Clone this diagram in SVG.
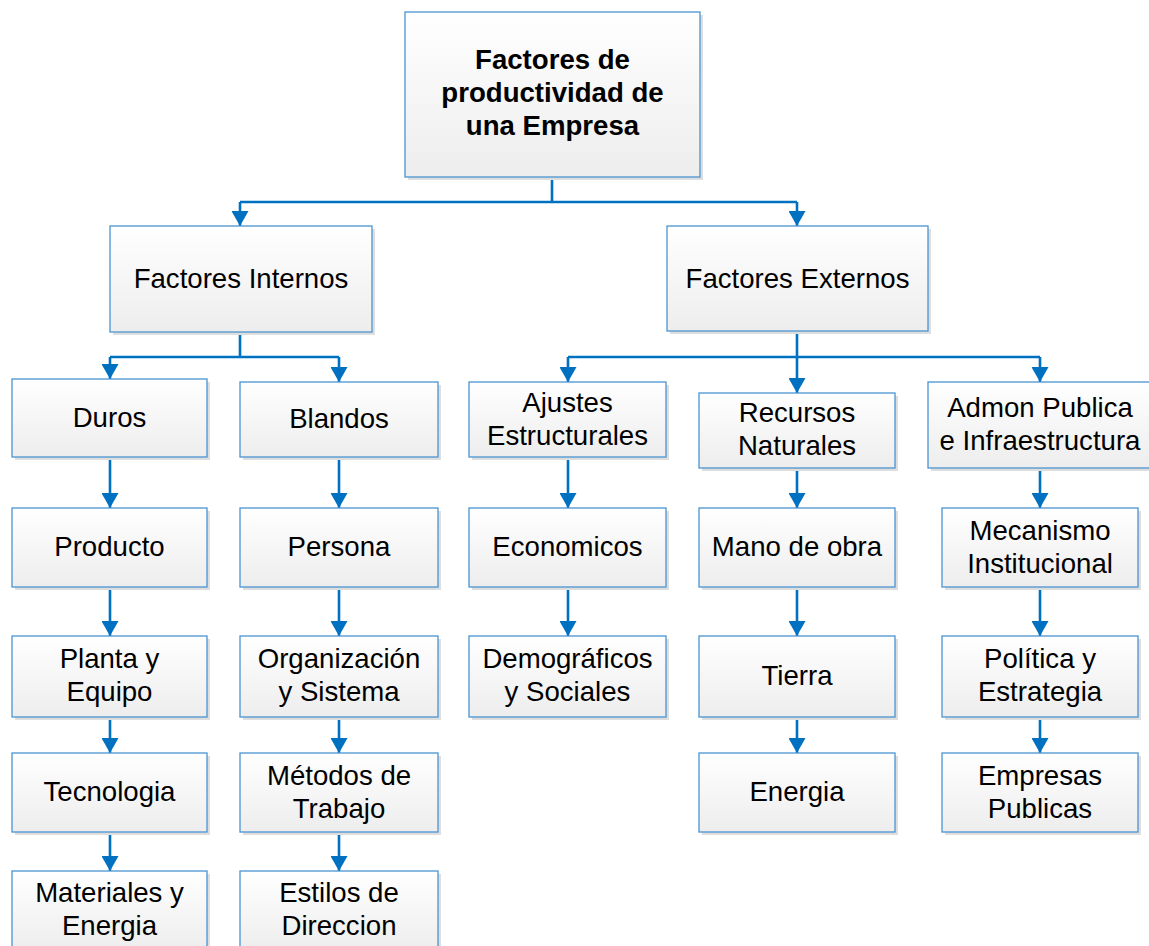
<svg xmlns="http://www.w3.org/2000/svg" width="1149" height="946" viewBox="0 0 1149 946">
<defs>
<linearGradient id="g" x1="0" y1="0" x2="0" y2="1">
<stop offset="0" stop-color="#ffffff"/>
<stop offset="1" stop-color="#ededed"/>
</linearGradient>
<marker id="ah" markerUnits="userSpaceOnUse" viewBox="0 0 15 17" markerWidth="15" markerHeight="17" refX="15" refY="8.5" orient="auto">
<path d="M0,0 L15,8.5 L0,17 z" fill="#0070c0"/>
</marker>
</defs>
<style>
.sh{fill:#dedede}
.bx{fill:url(#g);stroke:#4a94d2;stroke-width:1.3}
.t{font-family:"Liberation Sans",Arial,sans-serif;font-size:27.6px;fill:#000;text-anchor:middle}
.b{font-weight:bold}
.c{fill:none;stroke:#0070c0;stroke-width:2.6}
.a{marker-end:url(#ah)}
</style>
<rect width="1149" height="946" fill="#ffffff"/>

<g id="connectors">
<path class="c" d="M552,177 V202 M240,202 H797"/>
<path class="c a" d="M240,202 V226"/>
<path class="c a" d="M797,202 V226"/>
<path class="c" d="M240,332 V357 M110,357 H339"/>
<path class="c a" d="M110,357 V379"/>
<path class="c a" d="M339,357 V382"/>
<path class="c a" d="M797,331 V393"/>
<path class="c" d="M568,357 H1040"/>
<path class="c a" d="M568,357 V382"/>
<path class="c a" d="M1040,357 V382"/>
<path class="c a" d="M110,457 V508"/>
<path class="c a" d="M110,587 V636"/>
<path class="c a" d="M110,717 V753"/>
<path class="c a" d="M110,832 V871"/>
<path class="c a" d="M339,457 V508"/>
<path class="c a" d="M339,587 V636"/>
<path class="c a" d="M339,717 V753"/>
<path class="c a" d="M339,832 V871"/>
<path class="c a" d="M568,457 V508"/>
<path class="c a" d="M568,587 V636"/>
<path class="c a" d="M797,468 V508"/>
<path class="c a" d="M797,587 V636"/>
<path class="c a" d="M797,717 V753"/>
<path class="c a" d="M1040,468 V508"/>
<path class="c a" d="M1040,587 V636"/>
<path class="c a" d="M1040,717 V753"/>
</g>

<g id="root"><rect class="sh" x="408" y="15" width="295" height="165"/><rect class="bx" x="405" y="12" width="295" height="165"/>
<text class="t b" x="552.5" y="69">Factores de</text><text class="t b" x="552.5" y="102">productividad de</text><text class="t b" x="552.5" y="135">una Empresa</text></g>

<g id="internos"><rect class="sh" x="113" y="229" width="262" height="106"/><rect class="bx" x="110" y="226" width="262" height="106"/>
<text class="t" x="241" y="288">Factores Internos</text></g>
<g id="externos"><rect class="sh" x="670" y="229" width="261" height="105"/><rect class="bx" x="667" y="226" width="261" height="105"/>
<text class="t" x="797.5" y="288">Factores Externos</text></g>

<g id="duros"><rect class="sh" x="15" y="382" width="195" height="78"/><rect class="bx" x="12" y="379" width="195" height="78"/>
<text class="t" x="109.5" y="427">Duros</text></g>
<g id="blandos"><rect class="sh" x="243" y="385" width="198" height="75"/><rect class="bx" x="240" y="382" width="198" height="75"/>
<text class="t" x="339" y="428">Blandos</text></g>
<g id="ajustes"><rect class="sh" x="472" y="385" width="197" height="75"/><rect class="bx" x="469" y="382" width="197" height="75"/>
<text class="t" x="567.5" y="412">Ajustes</text><text class="t" x="567.5" y="445">Estructurales</text></g>
<g id="recursos"><rect class="sh" x="702" y="396" width="196" height="75"/><rect class="bx" x="699" y="393" width="196" height="75"/>
<text class="t" x="797" y="422">Recursos</text><text class="t" x="797" y="455">Naturales</text></g>
<g id="admon"><rect class="sh" x="931" y="385" width="224" height="86"/><rect class="bx" x="928" y="382" width="224" height="86"/>
<text class="t" x="1040" y="417">Admon Publica</text><text class="t" x="1040" y="450">e Infraestructura</text></g>

<g id="producto"><rect class="sh" x="15" y="511" width="195" height="79"/><rect class="bx" x="12" y="508" width="195" height="79"/>
<text class="t" x="109.5" y="556">Producto</text></g>
<g id="persona"><rect class="sh" x="243" y="511" width="198" height="79"/><rect class="bx" x="240" y="508" width="198" height="79"/>
<text class="t" x="339" y="556">Persona</text></g>
<g id="economicos"><rect class="sh" x="472" y="511" width="197" height="79"/><rect class="bx" x="469" y="508" width="197" height="79"/>
<text class="t" x="567.5" y="556">Economicos</text></g>
<g id="manodeobra"><rect class="sh" x="702" y="511" width="196" height="79"/><rect class="bx" x="699" y="508" width="196" height="79"/>
<text class="t" x="797" y="556">Mano de obra</text></g>
<g id="mecanismo"><rect class="sh" x="945" y="511" width="196" height="79"/><rect class="bx" x="942" y="508" width="196" height="79"/>
<text class="t" x="1040" y="540">Mecanismo</text><text class="t" x="1040" y="573">Institucional</text></g>

<g id="planta"><rect class="sh" x="15" y="639" width="195" height="81"/><rect class="bx" x="12" y="636" width="195" height="81"/>
<text class="t" x="109.5" y="668">Planta y</text><text class="t" x="109.5" y="701">Equipo</text></g>
<g id="organizacion"><rect class="sh" x="243" y="639" width="198" height="81"/><rect class="bx" x="240" y="636" width="198" height="81"/>
<text class="t" x="339" y="668">Organización</text><text class="t" x="339" y="701">y Sistema</text></g>
<g id="demograficos"><rect class="sh" x="472" y="639" width="197" height="81"/><rect class="bx" x="469" y="636" width="197" height="81"/>
<text class="t" x="567.5" y="668">Demográficos</text><text class="t" x="567.5" y="701">y Sociales</text></g>
<g id="tierra"><rect class="sh" x="702" y="639" width="196" height="81"/><rect class="bx" x="699" y="636" width="196" height="81"/>
<text class="t" x="797" y="685">Tierra</text></g>
<g id="politica"><rect class="sh" x="945" y="639" width="196" height="81"/><rect class="bx" x="942" y="636" width="196" height="81"/>
<text class="t" x="1040" y="668">Política y</text><text class="t" x="1040" y="701">Estrategia</text></g>

<g id="tecnologia"><rect class="sh" x="15" y="756" width="195" height="79"/><rect class="bx" x="12" y="753" width="195" height="79"/>
<text class="t" x="109.5" y="801">Tecnologia</text></g>
<g id="metodos"><rect class="sh" x="243" y="756" width="198" height="79"/><rect class="bx" x="240" y="753" width="198" height="79"/>
<text class="t" x="339" y="785">Métodos de</text><text class="t" x="339" y="818">Trabajo</text></g>
<g id="energia"><rect class="sh" x="702" y="756" width="196" height="79"/><rect class="bx" x="699" y="753" width="196" height="79"/>
<text class="t" x="797" y="801">Energia</text></g>
<g id="empresas"><rect class="sh" x="945" y="756" width="196" height="79"/><rect class="bx" x="942" y="753" width="196" height="79"/>
<text class="t" x="1040" y="785">Empresas</text><text class="t" x="1040" y="818">Publicas</text></g>

<g id="materiales"><rect class="sh" x="15" y="874" width="195" height="80"/><rect class="bx" x="12" y="871" width="195" height="80"/>
<text class="t" x="109.5" y="902">Materiales y</text><text class="t" x="109.5" y="935">Energia</text></g>
<g id="estilos"><rect class="sh" x="243" y="874" width="198" height="80"/><rect class="bx" x="240" y="871" width="198" height="80"/>
<text class="t" x="339" y="902">Estilos de</text><text class="t" x="339" y="935">Direccion</text></g>
</svg>
